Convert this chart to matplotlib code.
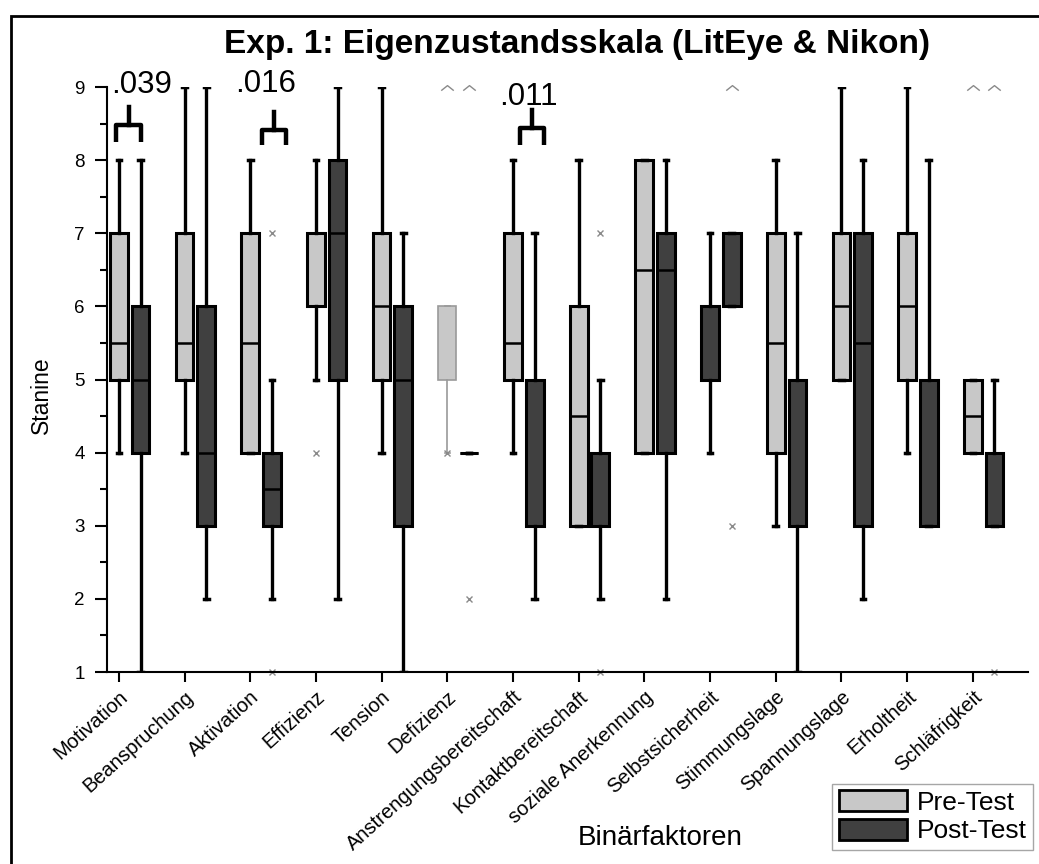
import matplotlib
matplotlib.use("Agg")
import matplotlib.pyplot as plt
from matplotlib.patches import Patch, Rectangle
from matplotlib.path import Path

plt.rcParams['font.family'] = ['Liberation Sans', 'DejaVu Sans']

categories = ["Motivation", "Beanspruchung", "Aktivation", "Effizienz", "Tension",
              "Defizienz", "Anstrengungsbereitschaft", "Kontaktbereitschaft",
              "soziale Anerkennung", "Selbstsicherheit", "Stimmungslage",
              "Spannungslage", "Erholtheit", "Schläfrigkeit"]

# Pre-Test
pre_lo  = [4, 4, 4, 5, 4, 4, 4, 3, 4, 4, 3, 5, 4, 4]
pre_q1  = [5, 5, 4, 6, 5, 5, 5, 3, 4, 5, 4, 5, 5, 4]
pre_med = [5.5, 5.5, 5.5, 6, 6, 5, 5.5, 4.5, 6.5, 5, 5.5, 6, 6, 4.5]
pre_q3  = [7, 7, 7, 7, 7, 6, 7, 6, 8, 6, 7, 7, 7, 5]
pre_hi  = [8, 9, 8, 8, 9, 6, 8, 8, 8, 7, 8, 9, 9, 5]

# Post-Test
post_lo  = [1, 2, 2, 2, 1, 4, 2, 2, 2, 6, 1, 2, 3, 3]
post_q1  = [4, 3, 3, 5, 3, 4, 3, 3, 4, 6, 3, 3, 3, 3]
post_med = [5, 4, 3.5, 7, 5, 4, 3, 3, 6.5, 6, 3, 5.5, 3, 3]
post_q3  = [6, 6, 4, 8, 6, 4, 5, 4, 7, 7, 5, 7, 5, 4]
post_hi  = [8, 9, 5, 9, 7, 4, 7, 5, 8, 7, 7, 8, 8, 5]

# outliers (category index, 0 = pre / 1 = post, value)
out_cat = [2, 2, 3, 5, 5, 7, 7, 9, 13]
out_grp = [1, 1, 0, 0, 1, 1, 1, 1, 1]
out_val = [7, 1, 4, 4, 2, 7, 1, 3, 1]
# extreme values at the top of the scale
top_cat = [5, 5, 9, 13, 13]
top_grp = [0, 1, 1, 0, 1]
top_val = [9, 9, 9, 9, 9]

# significance brackets
sig_text = [".039", ".016", ".011"]
sig_cat = [0, 2, 6]

pre_color = "#c8c8c8"
post_color = "#404040"
offset = 0.33

fig = plt.figure(figsize=(10.39, 8.64), dpi=100)
ax = fig.add_axes([0.103, 0.2222, 0.8864, 0.6771])

pos_pre = list(range(len(categories)))
pos_post = [p + offset for p in pos_pre]

def stats(lo, q1, med, q3, hi):
    return [dict(med=m, q1=a, q3=b, whislo=l, whishi=h, fliers=[])
            for l, a, m, b, h in zip(lo, q1, med, q3, hi)]

common = dict(widths=0.27, patch_artist=True, showfliers=False, capwidths=0.07,
              whiskerprops=dict(color="black", lw=2.4),
              capprops=dict(color="black", lw=2.5),
              medianprops=dict(color="black", lw=1.8))

bp_pre = ax.bxp(stats(pre_lo, pre_q1, pre_med, pre_q3, pre_hi), positions=pos_pre,
                boxprops=dict(facecolor=pre_color, edgecolor="black", lw=2.2), **common)
bp_post = ax.bxp(stats(post_lo, post_q1, post_med, post_q3, post_hi), positions=pos_post,
                 boxprops=dict(facecolor=post_color, edgecolor="black", lw=2.2), **common)

# Defizienz pre box drawn faint, Selbstsicherheit pre box drawn dark
i_def = categories.index("Defizienz")
bp_pre["boxes"][i_def].set_edgecolor("#9a9a9a")
bp_pre["boxes"][i_def].set_linewidth(1.2)
for k in (2 * i_def, 2 * i_def + 1):
    bp_pre["whiskers"][k].set_color("#9a9a9a")
    bp_pre["whiskers"][k].set_linewidth(1.2)
    bp_pre["caps"][k].set_color("#9a9a9a")
    bp_pre["caps"][k].set_linewidth(1.2)
bp_pre["medians"][i_def].set_visible(False)
i_sel = categories.index("Selbstsicherheit")
bp_pre["boxes"][i_sel].set_facecolor(post_color)

# outliers
ax.plot([c + g * offset for c, g in zip(out_cat, out_grp)], out_val, ls="none",
        marker="x", ms=5, mew=1.0, color="#8a8a8a", clip_on=False)
caret = Path([(-1, -0.5), (0, 0.3), (1, -0.5)], [Path.MOVETO, Path.LINETO, Path.LINETO])
ax.plot([c + g * offset for c, g in zip(top_cat, top_grp)], top_val, ls="none",
        marker=caret, ms=9, mew=1.0, mfc="none", color="#8a8a8a", clip_on=False)

# significance brackets
br_center = [0.15, 0.36, 0.29]
br_half = [0.19, 0.18, 0.18]
br_bar = [8.48, 8.41, 8.44]
br_foot = [8.25, 8.21, 8.21]
br_top = [8.73, 8.66, 8.69]
txt_x = [0.35, 0.23, 0.23]
txt_y = [9.03, 9.04, 8.86]
for t, c, bc, bh, yb, yf, yt, tx, ty in zip(sig_text, sig_cat, br_center, br_half,
                                            br_bar, br_foot, br_top, txt_x, txt_y):
    x0, x1, xc = c + bc - bh, c + bc + bh, c + bc
    ax.plot([x0, x0, x1, x1], [yf, yb, yb, yf], color="black", lw=3.2,
            solid_joinstyle="round", solid_capstyle="butt", clip_on=False)
    ax.plot([xc, xc], [yb, yt], color="black", lw=3.2, clip_on=False)
    ax.text(c + tx, ty, t, fontsize=22.5, ha="center", va="center")

ax.set_xlim(-0.18, 13.84)
ax.set_ylim(1, 9)
ax.set_xticks(pos_pre)
ax.set_xticklabels(categories, rotation=42, ha="right", rotation_mode="anchor", fontsize=14.5)
ax.set_yticks(range(1, 10))
ax.set_yticks([y + 0.5 for y in range(1, 9)], minor=True)
ax.tick_params(axis="y", which="major", length=9, width=1.5, labelsize=13.5, pad=7)
ax.tick_params(axis="y", which="minor", length=5, width=1.5)
ax.tick_params(axis="x", which="major", length=7, width=1.5, pad=4)
for s in ("top", "right"):
    ax.spines[s].set_visible(False)
for s in ("left", "bottom"):
    ax.spines[s].set_linewidth(1.5)

fig.text(41 / 1039, 1 - 395 / 864, "Stanine", rotation=90, fontsize=16.5,
         ha="center", va="center")
fig.text(660 / 1039, 1 - 838 / 864, "Binärfaktoren", fontsize=20, ha="center", va="center")
fig.text(577 / 1039, 1 - 45 / 864, "Exp. 1: Eigenzustandsskala (LitEye & Nikon)",
         fontsize=24, fontweight="bold", ha="center", va="center")

handles = [Patch(facecolor=pre_color, edgecolor="black", lw=2, label="Pre-Test"),
           Patch(facecolor=post_color, edgecolor="black", lw=2, label="Post-Test")]
leg = fig.legend(handles=handles, loc="lower right",
                 bbox_to_anchor=(1033 / 1039, 1 - 850 / 864), fontsize=19,
                 handlelength=2.6, handleheight=0.85, handletextpad=0.35,
                 labelspacing=0.15, borderpad=0.25, borderaxespad=0, fancybox=False)
leg.get_frame().set_edgecolor("#909090")
leg.get_frame().set_linewidth(1.0)

fig.patches.append(Rectangle((11 / 1039, -0.05), 1.2, 1 - 16 / 864 + 0.05,
                             transform=fig.transFigure, fill=False, lw=2, color="black"))

fig.savefig("out.png", dpi=100)
